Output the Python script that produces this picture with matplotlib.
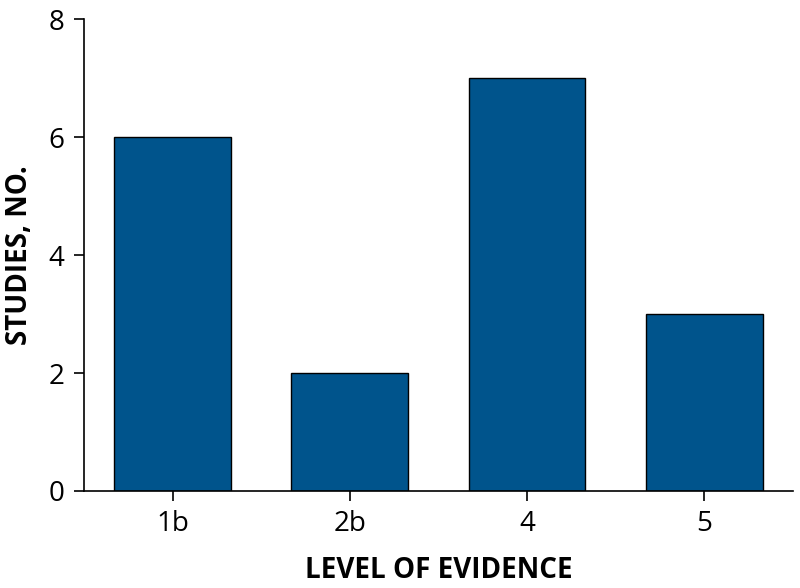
import matplotlib
matplotlib.use('Agg')
import matplotlib.pyplot as plt

# Data
levels = ['1b', '2b', '4', '5']
studies = [6, 2, 7, 3]
y_ticks = [0, 2, 4, 6, 8]

plt.rcParams['font.family'] = ['Open Sans', 'DejaVu Sans']

fig = plt.figure(figsize=(8, 5.88), dpi=100)
ax = fig.add_axes([0.105, 0.165, 0.886, 0.802])

x = range(len(levels))
ax.bar(x, studies, width=0.66, color='#00548c', edgecolor='black', linewidth=1.0)

ax.set_xlim(-0.5, 3.5)
ax.set_ylim(0, 8)
ax.set_xticks(list(x))
ax.set_xticklabels(levels)
ax.set_yticks(y_ticks)

ax.spines['top'].set_visible(False)
ax.spines['right'].set_visible(False)
for s in ['left', 'bottom']:
    ax.spines[s].set_linewidth(1.2)

ax.tick_params(axis='both', length=7, width=1.2, labelsize=20, pad=7)

ax.set_xlabel('LEVEL OF EVIDENCE', fontsize=20, fontweight='bold', labelpad=13)
ax.set_ylabel('STUDIES, NO.', fontsize=20, fontweight='bold')
ax.yaxis.set_label_coords(-0.07, 0.5)

fig.savefig('out.png', dpi=100)
